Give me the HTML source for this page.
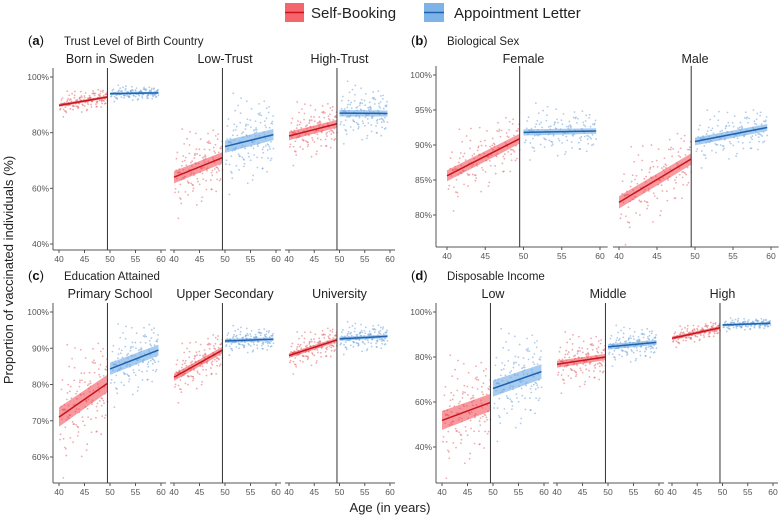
<!DOCTYPE html>
<html><head><meta charset="utf-8">
<style>
body{margin:0;background:#fff;width:779px;height:519px;overflow:hidden;font-family:"Liberation Sans",sans-serif}
svg{display:block}
</style></head><body>
<svg id="c" width="779" height="519" xmlns="http://www.w3.org/2000/svg">
<g>
<rect x="285" y="3" width="19" height="19" fill="#f4666b"/>
<line x1="285" y1="12.5" x2="304" y2="12.5" stroke="#c8151b" stroke-width="1.5"/>
<text x="311" y="18" font-size="15" fill="#222">Self-Booking</text>
<rect x="424" y="3" width="20" height="19" fill="#7db3e6"/>
<line x1="424" y1="12.5" x2="444" y2="12.5" stroke="#1f62ad" stroke-width="1.5"/>
<text x="454" y="18" font-size="15" fill="#222">Appointment Letter</text>
</g>
<text transform="translate(13,270) rotate(-90)" text-anchor="middle" font-size="13" fill="#222">Proportion of vaccinated individuals (%)</text>
<text x="390" y="512" text-anchor="middle" font-size="13" fill="#222">Age (in years)</text>
</svg>
<script>
const panelLetters = ["a","b","c","d"];
const panelTitles = ["Trust Level of Birth Country","Biological Sex","Education Attained","Disposable Income"];
const facetNames = [["Born in Sweden","Low-Trust","High-Trust"],["Female","Male"],["Primary School","Upper Secondary","University"],["Low","Middle","High"]];
const yTicks = [[40,60,80,100],[80,85,90,95,100],[60,70,80,90,100],[40,60,80,100]];
const xTicks = [40,45,50,55,60];
const fitSelf = [[[89.8,92.8],[64,71],[78.8,83.2]],[[85.6,90.9],[81.8,88.0]],[[71,80.3],[82,89.5],[88,92.3]],[[51.8,59.8],[76.8,80],[88.3,93]]];
const fitLetter = [[[94.0,94.3],[75,79.3],[87,86.9]],[[91.8,92.0],[90.5,92.5]],[[84.3,89.5],[92,92.5],[92.6,93.3]],[[66,73.5],[84.5,86.5],[94.2,95]]];
const bandSelf = [[0.5,2.0,1.4],[0.7,0.8],[2.4,0.9,0.6],[3.8,1.4,0.7]];
const bandLetter = [[0.4,2.0,1.1],[0.4,0.5],[1.5,0.5,0.5],[3.3,1.1,0.5]];
const spreadSelf = [[2,7,5],[2.5,3],[8,3.5,2.5],[12,6,2]];
const spreadLetter = [[1.3,8,5],[1.8,1.8],[5,1.8,2],[11,4,1.3]];
const jitAge = [0.02,0.07,0.11,0.15,0.19,0.23,0.27,0.31,0.35,0.39,0.43,0.47,0.51,0.55,0.59,0.63,0.67,0.71,0.75,0.79,0.83,0.87,0.91,0.95,0.98,0.05,0.13,0.21,0.29,0.37,0.45,0.53,0.61,0.69,0.77,0.85,0.93,0.09,0.33,0.57,0.81,0.41,0.65,0.17,0.89];
const jitRes = [-0.8,1.2,0.3,-1.5,0.9,-0.2,1.7,-0.6,0.4,-1.1,0.7,-1.9,0.2,1.4,-0.4,0.8,-1.3,0.1,1.0,-0.7,0.5,-1.6,1.3,-0.3,0.6,0.9,-0.5,1.5,-1.2,0.2,1.8,-0.9,-0.1,1.1,-1.4,0.4,-0.6,-2.2,2.0,-1.8,1.6,-0.2,0.3,2.3,-1.0];

const L = [
 {ax:53, top:68, bot:250, fx:[[59,161],[174,276],[289,390]], yv:[40,100], yp:[244,77], ty:45, fy:63},
 {ax:436, top:66, bot:247, fx:[[447,600],[619,771]], yv:[80,100], yp:[215,75], ty:45, fy:63},
 {ax:53, top:303, bot:483, fx:[[59,161],[174,276],[289,390]], yv:[60,100], yp:[457,312], ty:280, fy:298},
 {ax:436, top:303, bot:483, fx:[[442,544],[557,659],[672,773]], yv:[40,100], yp:[447,312], ty:280, fy:298}
];
const svg = document.getElementById('c');
const NS = "http://www.w3.org/2000/svg";
function mk(tag, attrs, parent){const e=document.createElementNS(NS,tag);for(const k in attrs)e.setAttribute(k,attrs[k]);(parent||svg).appendChild(e);return e;}

L.forEach((g,pi)=>{
  const grp = mk('g',{});
  
  
  const yS = v => g.yp[0] + (v-g.yv[0])*(g.yp[1]-g.yp[0])/(g.yv[1]-g.yv[0]);
  const lt = mk('text',{x:g.ax-25,y:g.ty,'font-size':13,fill:'#111'},grp);
  lt.innerHTML = '(<tspan font-weight="bold">'+panelLetters[pi]+'</tspan>)';
  
  
  const tt = mk('text',{x:g.ax+11,y:g.ty,'font-size':11.5,fill:'#222'},grp);
  tt.textContent = panelTitles[pi];
  
  
  const ya = mk('line',{x1:g.ax,y1:g.top,x2:g.ax,y2:g.bot,stroke:'#555','stroke-width':1},grp);
  
  
  yTicks[pi].forEach(v=>{
    const y=yS(v);
    mk('line',{x1:g.ax-3,y1:y,x2:g.ax,y2:y,stroke:'#555'},grp);
    const t=mk('text',{x:g.ax-4,y:y+3,'font-size':8.5,fill:'#555','text-anchor':'end'},grp);
    t.textContent=v+'%';
    
    
  });
  g.fx.forEach((f,fi)=>{
    const xS = a => f[0] + (a-40)*(f[1]-f[0])/20;
    const fg = mk('g',{},grp);
    
    
    const x0 = fi===0 ? g.ax : xS(39.2), x1 = xS(61);
    const xa = mk('line',{x1:x0,y1:g.bot,x2:x1,y2:g.bot,stroke:'#555'},fg);
    
    
    xTicks.forEach(a=>{
      const x=xS(a);
      mk('line',{x1:x,y1:g.bot,x2:x,y2:g.bot+3,stroke:'#555'},fg);
      const t=mk('text',{x:x,y:g.bot+12,'font-size':8.5,fill:'#555','text-anchor':'middle'},fg);
      t.textContent=a;
      
      
    });
    const ft = mk('text',{x:(xS(40)+xS(60))/2,y:g.fy,'font-size':12.5,fill:'#222','text-anchor':'middle'},fg);
    ft.textContent = facetNames[pi][fi];
    
    
    [[fitSelf,bandSelf,spreadSelf,40,49.5,'#e0575d','#c8151b','rgba(240,70,78,0.55)','self-booking'],
     [fitLetter,bandLetter,spreadLetter,50,59.5,'#5f9ad6','#1f62ad','rgba(110,170,230,0.6)','appointment-letter']].forEach(s=>{
      const fit=s[0][pi][fi], bw=s[1][pi][fi], sp=s[2][pi][fi], a0=s[3], a1=s[4];
      const val = a => fit[0] + (fit[1]-fit[0])*(a-a0)/(a1-a0);
      [[0,1],[0.012,-0.7],[0.025,0.45]].forEach(pass=>{
        jitAge.forEach((ja,k)=>{
          const a=a0+Math.min(1,ja+pass[0])*(a1-a0);
          const v=Math.min(g.yv[1]+1,val(a)+jitRes[(k+pass[0]*400)%jitRes.length|0]*sp*pass[1]);
          const c=mk('circle',{cx:xS(a),cy:yS(v),r:0.9,fill:s[5],opacity:0.5},fg);
          
          
        });
      });
      const band = mk('polygon',{points:[xS(a0)+','+yS(fit[0]+bw*1.1),xS(a1)+','+yS(fit[1]+bw),xS(a1)+','+yS(fit[1]-bw),xS(a0)+','+yS(fit[0]-bw*1.1)].join(' '),fill:s[7]},fg);
      
      
      const ln = mk('line',{x1:xS(a0),y1:yS(fit[0]),x2:xS(a1),y2:yS(fit[1]),stroke:s[6],'stroke-width':1.5},fg);
      
      
    });
    const cx=xS(49.5);
    const cl = mk('line',{x1:cx,y1:g.top,x2:cx,y2:g.bot,stroke:'#333','stroke-width':1},fg);
    
    
  });
});
</script>
</body></html>
